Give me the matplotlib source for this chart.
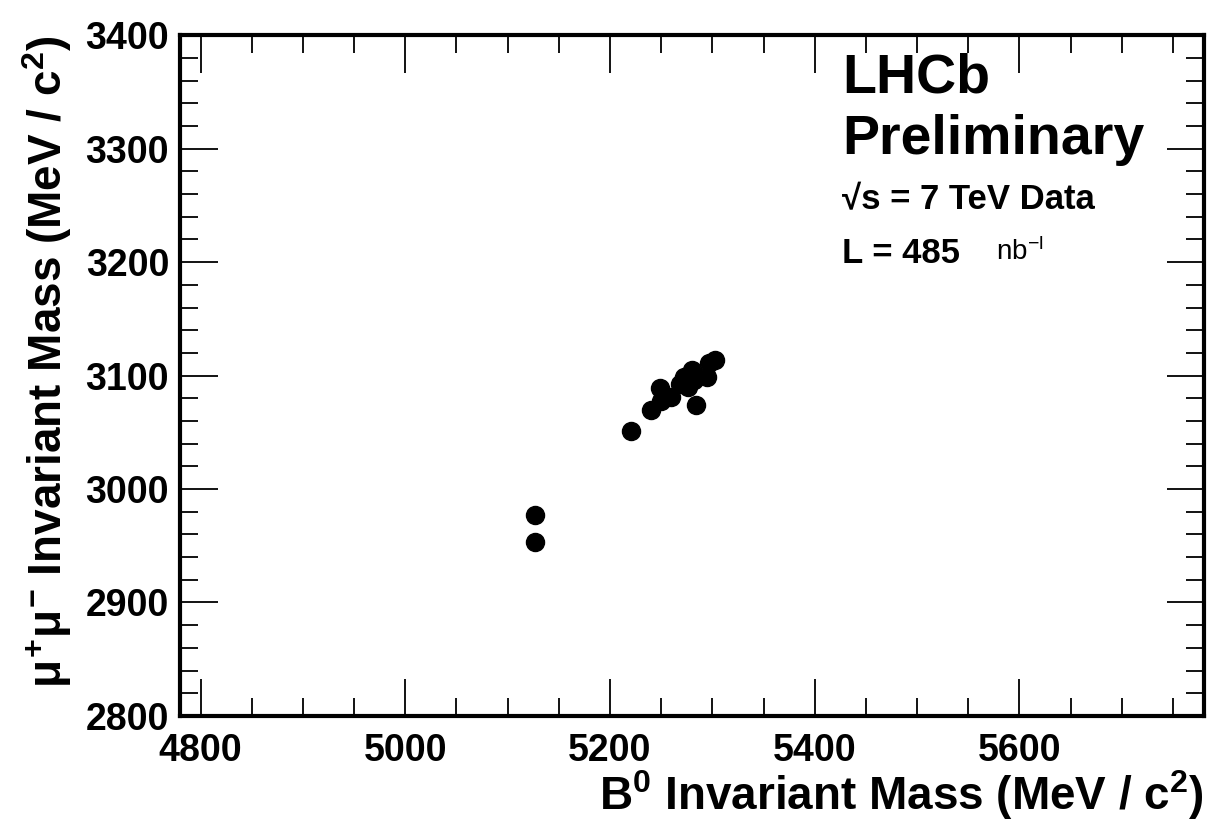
import numpy as np
import matplotlib
matplotlib.use('Agg')
from matplotlib import pyplot as plt
from matplotlib.ticker import MultipleLocator

# B0 candidates: B0 mass vs dimuon mass [MeV/c^2]
b0_mass = [5127, 5127, 5221, 5240, 5249, 5250, 5260, 5268, 5272,
           5276, 5280, 5282, 5284, 5295, 5297, 5303]
mumu_mass = [2977, 2953, 3051, 3070, 3089, 3078, 3081, 3093, 3099,
             3090, 3105, 3096, 3074, 3099, 3111, 3114]

x_range = (4780, 5780)
y_range = (2800, 3400)

plt.rcParams['font.family'] = ['Liberation Sans', 'DejaVu Sans']
plt.rcParams['font.weight'] = 'bold'
plt.rcParams['mathtext.fontset'] = 'custom'
plt.rcParams['mathtext.rm'] = 'Liberation Sans:bold'
plt.rcParams['mathtext.bf'] = 'Liberation Sans:bold'
plt.rcParams['mathtext.it'] = 'Liberation Sans:bold'

fig = plt.figure(figsize=(12.17, 8.21), dpi=100)
ax = fig.add_axes([0.148, 0.128, 0.841, 0.829])

ax.plot(b0_mass, mumu_mass, 'o', color='black', markersize=13)

ax.set_xlim(*x_range)
ax.set_ylim(*y_range)

ax.xaxis.set_major_locator(MultipleLocator(200))
ax.xaxis.set_minor_locator(MultipleLocator(50))
ax.yaxis.set_major_locator(MultipleLocator(100))
ax.yaxis.set_minor_locator(MultipleLocator(20))
ax.tick_params(which='both', direction='in', top=True, right=True, width=1.3)
ax.tick_params(which='major', length=27, labelsize=27)
ax.tick_params(which='minor', length=13)
ax.tick_params(axis='x', which='major', pad=12)
ax.tick_params(axis='y', which='major', pad=8)
for lab in ax.get_xticklabels() + ax.get_yticklabels():
    lab.set_fontweight('bold')
for sp in ax.spines.values():
    sp.set_linewidth(3)

ax.set_xlabel(r'B$^{\mathbf{0}}$ Invariant Mass (MeV / c$^{\mathbf{2}}$)',
              fontsize=33, fontweight='bold', loc='right', labelpad=0)
ax.set_ylabel(r'$\mu^{+}\mu^{-}$ Invariant Mass (MeV / c$^{\mathbf{2}}$)',
              fontsize=33, fontweight='bold', loc='top', labelpad=8)

ax.text(0.647, 0.975, 'LHCb', transform=ax.transAxes, fontsize=40,
        fontweight='bold', va='top')
ax.text(0.647, 0.885, 'Preliminary', transform=ax.transAxes, fontsize=40,
        fontweight='bold', va='top')
ax.text(0.647, 0.783, '√s = 7 TeV Data', transform=ax.transAxes, fontsize=25,
        fontweight='bold', va='top')
ax.text(0.647, 0.703, 'L = 485', transform=ax.transAxes, fontsize=25,
        fontweight='bold', va='top')
ax.text(0.797, 0.703, r'nb$^{\mathregular{-l}}$', transform=ax.transAxes,
        fontsize=20, fontweight='normal', va='top')

fig.savefig('out.png', dpi=100)
